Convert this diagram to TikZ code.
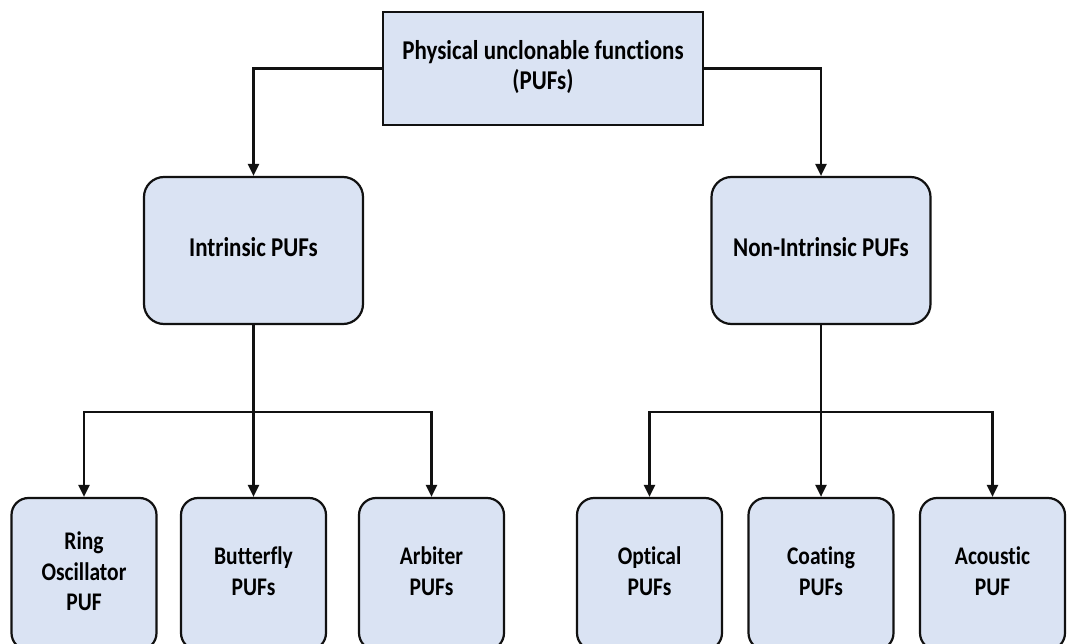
\documentclass[tikz,border=0pt]{standalone}
\usepackage{graphicx}
\usepackage{fontspec}
\setmainfont{Carlito}[Ligatures=NoCommon]
\usetikzlibrary{arrows.meta}
\definecolor{boxfill}{HTML}{DAE3F3}
\definecolor{ink}{HTML}{111111}
% box label: bold, centred lines, slightly tall lettering
\newcommand\boxlabel[2]{\scalebox{1}[1.18]{\fontsize{#1}{26}\selectfont\bfseries
  \begin{tabular}{@{}c@{}}#2\end{tabular}}}
\begin{document}
\begin{tikzpicture}[x=1pt,y=-1pt,
  base/.style={draw=ink,line width=2.2pt,fill=boxfill,align=center,inner sep=0pt},
  rootbox/.style={base,rectangle,minimum width=320pt,minimum height=113pt},
  midbox/.style={base,rounded corners=20pt,minimum width=219pt,minimum height=147pt},
  leafbox/.style={base,rounded corners=17pt,minimum width=145pt,minimum height=152pt},
  link/.style={draw=ink,line width=2.2pt},
  arr/.style={link,-{Triangle[length=12pt,width=11pt]}}]
\useasboundingbox (0,0) rectangle (1068,644);
\clip (0,0) rectangle (1068,644);
\fill[white] (0,0) rectangle (1068,644);

% root and the two families
\node[rootbox] (root) at (543,68.5) {\boxlabel{23}{Physical unclonable functions\\(PUFs)}};
\node[midbox] (intr) at (253.5,250.5) {\boxlabel{23}{Intrinsic PUFs}};
\node[midbox] (nonintr) at (821,250.5) {\boxlabel{23}{Non-Intrinsic PUFs}};

% leaves
\node[leafbox] (ring) at (84,574) {\boxlabel{21.5}{Ring\\Oscillator\\PUF}};
\node[leafbox] (butterfly) at (253.5,574) {\boxlabel{21.5}{Butterfly\\PUFs}};
\node[leafbox] (arbiter) at (431.5,574) {\boxlabel{21.5}{Arbiter\\PUFs}};
\node[leafbox] (optical) at (649.5,574) {\boxlabel{21.5}{Optical\\PUFs}};
\node[leafbox] (coating) at (821,574) {\boxlabel{21.5}{Coating\\PUFs}};
\node[leafbox] (acoustic) at (992.5,574) {\boxlabel{21.5}{Acoustic\\PUF}};

% connectors from the root
\draw[arr] (root.west) -| (intr.north);
\draw[arr] (root.east) -| (nonintr.north);

% intrinsic branch
\coordinate (lj) at (253.5,412);
\draw[link] (intr.south) -- (lj);
\draw[arr] (lj) -| (ring.north);
\draw[arr] (lj) -- (butterfly.north);
\draw[arr] (lj) -| (arbiter.north);

% non-intrinsic branch
\coordinate (rj) at (821,412);
\draw[link] (nonintr.south) -- (rj);
\draw[arr] (rj) -| (optical.north);
\draw[arr] (rj) -- (coating.north);
\draw[arr] (rj) -| (acoustic.north);
\end{tikzpicture}
\end{document}
